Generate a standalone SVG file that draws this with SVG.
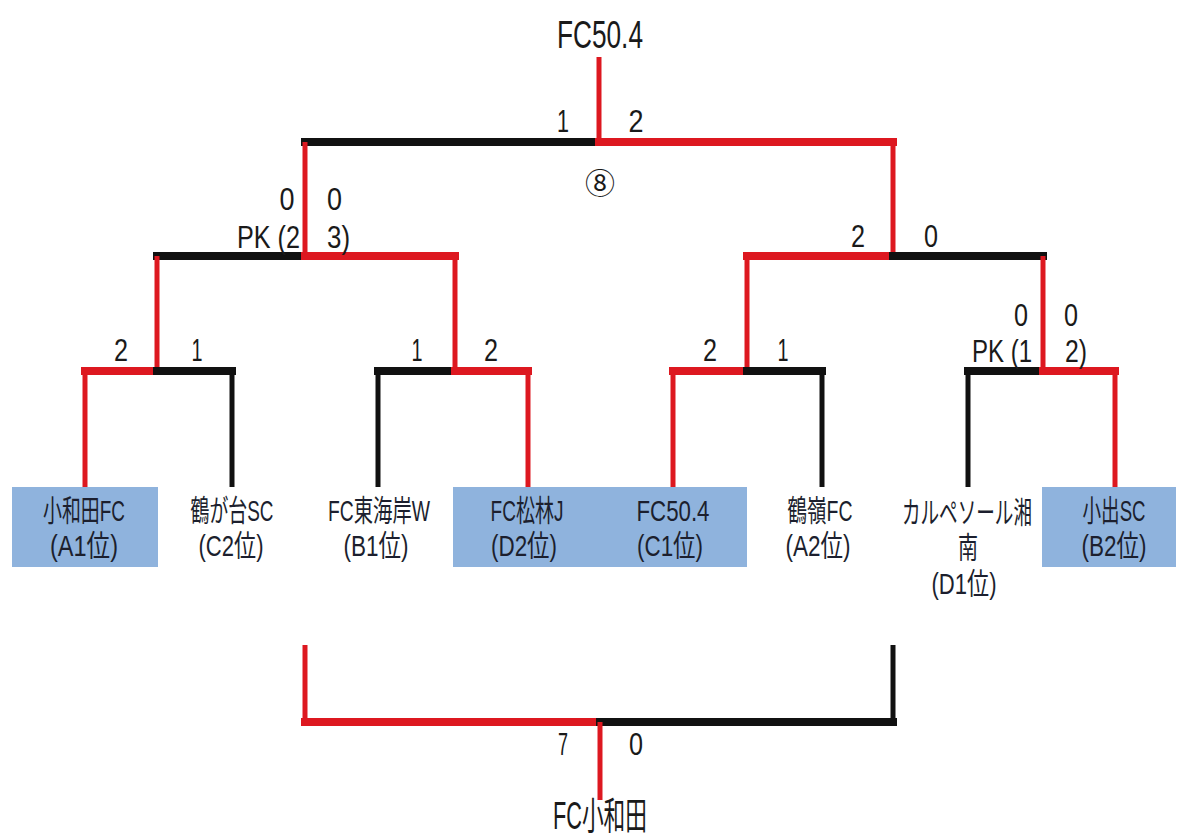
<svg xmlns="http://www.w3.org/2000/svg" width="1181" height="835" viewBox="0 0 1181 835">
<style>
.bg{fill:#ffffff}
.h{fill:none;stroke-width:8;stroke-linecap:square}
.v{fill:none;stroke-width:5;stroke-linecap:butt}
.r{stroke:#dd1820}
.k{stroke:#111111}
.box{fill:#8fb3dd}
.sc{font-family:"Liberation Sans",Arial,sans-serif;font-size:32px;fill:#1a1a1a}
.tm{font-family:"Liberation Sans","Noto Sans CJK JP",sans-serif;font-size:30px;fill:#1c1f2e;text-anchor:middle}
.ti{font-family:"Liberation Sans","Noto Sans CJK JP",sans-serif;font-size:38px;fill:#1a1a1a;text-anchor:middle}
.c{text-anchor:middle}
.e{text-anchor:end}
</style>
<rect class="bg" x="0" y="0" width="1181" height="835"/>

<g id="connectors">
  <path class="v r" d="M599 57V142"/>
  <path class="h k" d="M305 142H599"/>
  <path class="h r" d="M599 142H893"/>
  <path class="v r" d="M305 142V256"/>
  <path class="v r" d="M893 142V256"/>
  <path class="h k" d="M157 256H305"/>
  <path class="h r" d="M305 256H455"/>
  <path class="v r" d="M157 256V371"/>
  <path class="v r" d="M455 256V371"/>
  <path class="h r" d="M747 256H893"/>
  <path class="h k" d="M893 256H1043"/>
  <path class="v r" d="M747 256V371"/>
  <path class="v r" d="M1043 256V371"/>
  <path class="h r" d="M85 371H157"/>
  <path class="h k" d="M157 371H232"/>
  <path class="v r" d="M85 371V487"/>
  <path class="v k" d="M232 371V487"/>
  <path class="h k" d="M378 371H455"/>
  <path class="h r" d="M455 371H528"/>
  <path class="v k" d="M378 371V487"/>
  <path class="v r" d="M528 371V487"/>
  <path class="h r" d="M673 371H747"/>
  <path class="h k" d="M747 371H822"/>
  <path class="v r" d="M673 371V487"/>
  <path class="v k" d="M822 371V487"/>
  <path class="h k" d="M968 371H1043"/>
  <path class="h r" d="M1043 371H1115"/>
  <path class="v k" d="M968 371V487"/>
  <path class="v r" d="M1115 371V487"/>
  <path class="v r" d="M305 645V722"/>
  <path class="v k" d="M893 645V722"/>
  <path class="h r" d="M305 722H600"/>
  <path class="h k" d="M600 722H893"/>
  <path class="v r" d="M600 722V800"/>
</g>

<g id="scores" class="sc">
  <text x="563" y="132" class="c" textLength="12" lengthAdjust="spacingAndGlyphs">1</text>
  <text x="636" y="132" class="c" textLength="15" lengthAdjust="spacingAndGlyphs">2</text>
  <text x="600" y="194" class="c" style="font-family:'Noto Sans CJK JP',sans-serif;font-size:30px">⑧</text>
  <text x="287" y="210" class="c" textLength="15" lengthAdjust="spacingAndGlyphs">0</text>
  <text x="300" y="248" class="e" textLength="63" lengthAdjust="spacingAndGlyphs">PK (2</text>
  <text x="327" y="210" textLength="15" lengthAdjust="spacingAndGlyphs">0</text>
  <text x="327" y="248" textLength="23" lengthAdjust="spacingAndGlyphs">3)</text>
  <text x="858" y="247" class="c" textLength="14" lengthAdjust="spacingAndGlyphs">2</text>
  <text x="931" y="247" class="c" textLength="14" lengthAdjust="spacingAndGlyphs">0</text>
  <text x="121" y="361" class="c" textLength="14" lengthAdjust="spacingAndGlyphs">2</text>
  <text x="197" y="361" class="c" textLength="11" lengthAdjust="spacingAndGlyphs">1</text>
  <text x="417" y="361" class="c" textLength="11" lengthAdjust="spacingAndGlyphs">1</text>
  <text x="491" y="361" class="c" textLength="14" lengthAdjust="spacingAndGlyphs">2</text>
  <text x="710" y="361" class="c" textLength="14" lengthAdjust="spacingAndGlyphs">2</text>
  <text x="783" y="361" class="c" textLength="11" lengthAdjust="spacingAndGlyphs">1</text>
  <text x="1021" y="326" class="c" textLength="14" lengthAdjust="spacingAndGlyphs">0</text>
  <text x="1032" y="362" class="e" textLength="60" lengthAdjust="spacingAndGlyphs">PK (1</text>
  <text x="1071" y="326" class="c" textLength="14" lengthAdjust="spacingAndGlyphs">0</text>
  <text x="1065" y="362" textLength="22" lengthAdjust="spacingAndGlyphs">2)</text>
  <text x="563" y="755" class="c" textLength="10" lengthAdjust="spacingAndGlyphs">7</text>
  <text x="636" y="755" class="c" textLength="14" lengthAdjust="spacingAndGlyphs">0</text>
</g>

<g id="champion">
  <text class="ti" x="600" y="48" textLength="86" lengthAdjust="spacingAndGlyphs">FC50.4</text>
</g>
<g id="third-place">
  <text class="ti" x="600" y="829" textLength="94" lengthAdjust="spacingAndGlyphs">FC小和田</text>
</g>

<g id="team-kowada">
  <rect class="box" x="12" y="487" width="146" height="80"/>
  <text class="tm" x="84" y="521" textLength="82" lengthAdjust="spacingAndGlyphs">小和田FC</text>
  <text class="tm" x="84" y="556" textLength="68" lengthAdjust="spacingAndGlyphs">(A1位)</text>
</g>
<g id="team-tsurugadai">
  <text class="tm" x="232" y="521" textLength="83" lengthAdjust="spacingAndGlyphs">鶴が台SC</text>
  <text class="tm" x="231" y="556" textLength="65" lengthAdjust="spacingAndGlyphs">(C2位)</text>
</g>
<g id="team-tokaigan">
  <text class="tm" x="379" y="521" textLength="102" lengthAdjust="spacingAndGlyphs">FC東海岸W</text>
  <text class="tm" x="376" y="556" textLength="65" lengthAdjust="spacingAndGlyphs">(B1位)</text>
</g>
<g id="team-matsubayashi">
  <rect class="box" x="453" y="487" width="147" height="80"/>
  <text class="tm" x="527" y="521" textLength="73" lengthAdjust="spacingAndGlyphs">FC松林J</text>
  <text class="tm" x="524" y="556" textLength="66" lengthAdjust="spacingAndGlyphs">(D2位)</text>
</g>
<g id="team-fc504">
  <rect class="box" x="600" y="487" width="147" height="80"/>
  <text class="tm" x="673" y="521" textLength="73" lengthAdjust="spacingAndGlyphs">FC50.4</text>
  <text class="tm" x="670" y="556" textLength="66" lengthAdjust="spacingAndGlyphs">(C1位)</text>
</g>
<g id="team-tsurumine">
  <text class="tm" x="820" y="521" textLength="65" lengthAdjust="spacingAndGlyphs">鶴嶺FC</text>
  <text class="tm" x="818" y="556" textLength="65" lengthAdjust="spacingAndGlyphs">(A2位)</text>
</g>
<g id="team-calpesol">
  <text class="tm" transform="matrix(0.62 0 0 1 967 523)" x="0" y="0">カルペソール湘</text>
  <text class="tm" x="968" y="558" textLength="20" lengthAdjust="spacingAndGlyphs">南</text>
  <text class="tm" x="964" y="594" textLength="65" lengthAdjust="spacingAndGlyphs">(D1位)</text>
</g>
<g id="team-koide">
  <rect class="box" x="1042" y="487" width="134" height="80"/>
  <text class="tm" transform="matrix(0.62 0 0 1 1114 521)" x="0" y="0">小出SC</text>
  <text class="tm" x="1114" y="556" textLength="65" lengthAdjust="spacingAndGlyphs">(B2位)</text>
</g>
</svg>
